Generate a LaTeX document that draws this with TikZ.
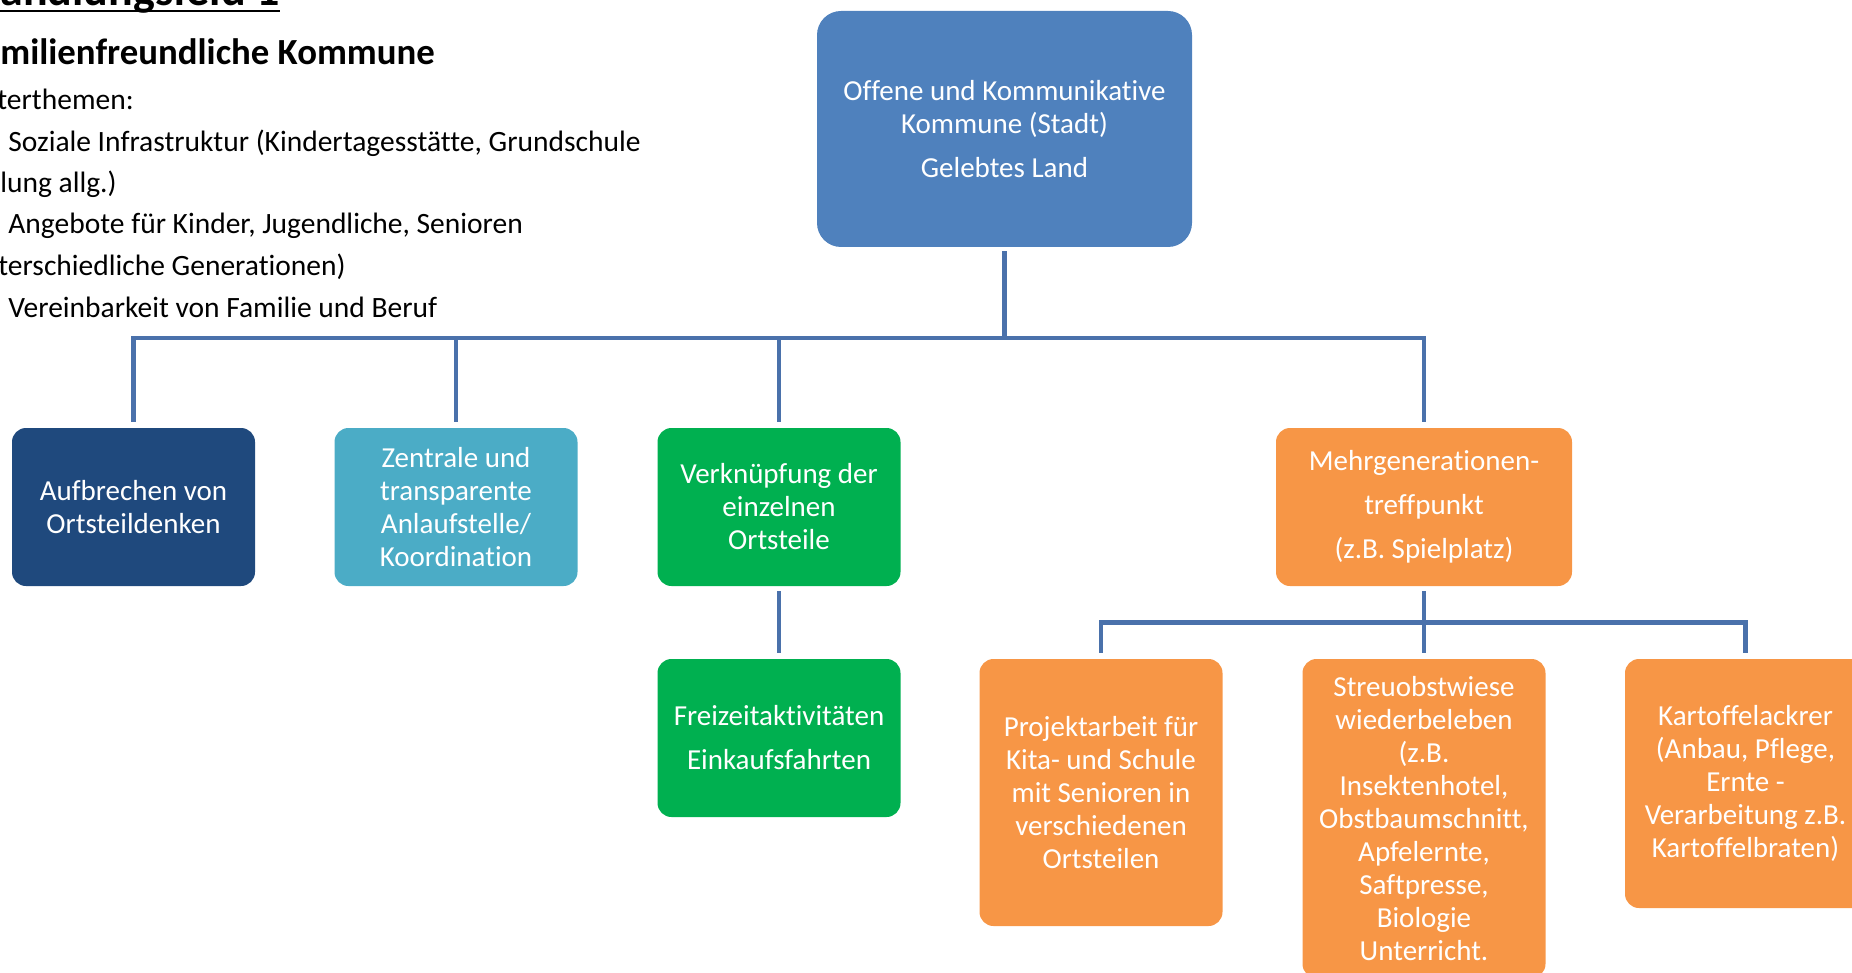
\documentclass[tikz,border=0pt]{standalone}
\usepackage{fontspec}
\setmainfont{Carlito}[Ligatures=NoCommon]
\usetikzlibrary{positioning}
\definecolor{topblue}{HTML}{4F81BD}
\definecolor{darkblue}{HTML}{1F497D}
\definecolor{lightblue}{HTML}{4BACC6}
\definecolor{boxgreen}{HTML}{00B050}
\definecolor{boxorange}{HTML}{F79646}
\definecolor{linkblue}{HTML}{4A71AB}
\newcommand{\thickul}[1]{\setbox0\hbox{#1}\rlap{\rule[-3.2pt]{\wd0}{1.3pt}}\box0}

\begin{document}
\begin{tikzpicture}[x=0.5pt,y=-0.5pt,
        box/.style={rounded corners=7pt, text=white, align=center, inner sep=2pt,
            minimum width=121.5pt, minimum height=79pt,
            font=\fontsize{14.5}{16.5}\selectfont},
        link/.style={draw=linkblue, line width=2.4pt},
        gap/.style={shorten >=3pt},
        lefttext/.style={anchor=base west, inner sep=0pt,
            font=\fontsize{14.75}{16}\selectfont}]

    \useasboundingbox (0,0) rectangle (1852,973);

    % text on the left
    \node[lefttext, font=\bfseries\fontsize{23}{25}\selectfont] (title) at (0,6) {\thickul{andlungsfeld 1}};
    \node[lefttext, font=\bfseries\fontsize{18.4}{20}\selectfont] (heading) at (0,65) {milienfreundliche Kommune};
    \node[lefttext] (sub) at (-3,110) {terthemen:};
    \node[lefttext] (topic1) at (8,151.5) {Soziale Infrastruktur (Kindertagesstätte, Grundschule};
    \node[lefttext] (topic1b) at (0,193) {lung allg.)};
    \node[lefttext] (topic2) at (8,234) {Angebote für Kinder, Jugendliche, Senioren};
    \node[lefttext] (topic2b) at (-2,275.6) {terschiedliche Generationen)};
    \node[lefttext] (topic3) at (8,317) {Vereinbarkeit von Familie und Beruf};

    % draws boxes
    \node[box, fill=topblue, minimum width=187.5pt, minimum height=118pt, rounded corners=12pt] (top) at (1004.5,129)
        {Offene und Kommunikative\\Kommune (Stadt)\\[5.5pt]Gelebtes Land};
    \node[box, fill=darkblue] (ortsteil) at (133.5,507) {Aufbrechen von\\Ortsteildenken};
    \node[box, fill=lightblue] (anlauf) at (456,507) {Zentrale und\\transparente\\Anlaufstelle/\\Koordination};
    \node[box, fill=boxgreen] (verkn) at (779,507) {Verknüpfung der\\einzelnen\\Ortsteile};
    \node[box, fill=boxorange, minimum width=148pt] (mehrgen) at (1424,507)
        {Mehrgenerationen-\\[5.5pt]treffpunkt\\[5.5pt](z.B. Spielplatz)};
    \node[box, fill=boxgreen] (freizeit) at (779,738) {Freizeitaktivitäten\\[5.5pt]Einkaufsfahrten};
    \node[box, fill=boxorange, minimum height=133.5pt] (projekt) at (1101,792.5)
        {Projektarbeit für\\Kita- und Schule\\mit Senioren in\\verschiedenen\\Ortsteilen};
    \node[box, fill=boxorange, minimum height=159.5pt] (streuobst) at (1424,818.5)
        {Streuobstwiese\\wiederbeleben\\(z.B.\\Insektenhotel,\\Obstbaumschnitt,\\Apfelernte,\\Saftpresse,\\Biologie\\Unterricht.};
    \node[box, fill=boxorange, minimum height=124.5pt, minimum width=120.5pt] (acker) at (1745.5,783.5)
        {Kartoffelackrer\\(Anbau, Pflege,\\Ernte -\\Verarbeitung z.B.\\Kartoffelbraten)};

    % draws connectors
    \coordinate (bus) at (0,338);
    \coordinate (subbus) at (0,622.5);
    \draw[link, shorten >=2pt] (top |- bus) -- (top.south);
    \draw[link, gap, shorten <=3pt] (ortsteil.north) -- (ortsteil |- bus) -- (mehrgen |- bus) -- (mehrgen.north);
    \draw[link, gap] (anlauf |- bus) -- (anlauf.north);
    \draw[link, gap] (verkn |- bus) -- (verkn.north);
    \draw[link, gap, shorten <=2.5pt] (verkn.south) -- (freizeit.north);
    \draw[link, gap, shorten <=2.5pt] (mehrgen.south) -- (streuobst.north);
    \draw[link, gap, shorten <=3pt] (projekt.north) -- (projekt |- subbus) -- (acker |- subbus) -- (acker.north);
\end{tikzpicture}
\end{document}
